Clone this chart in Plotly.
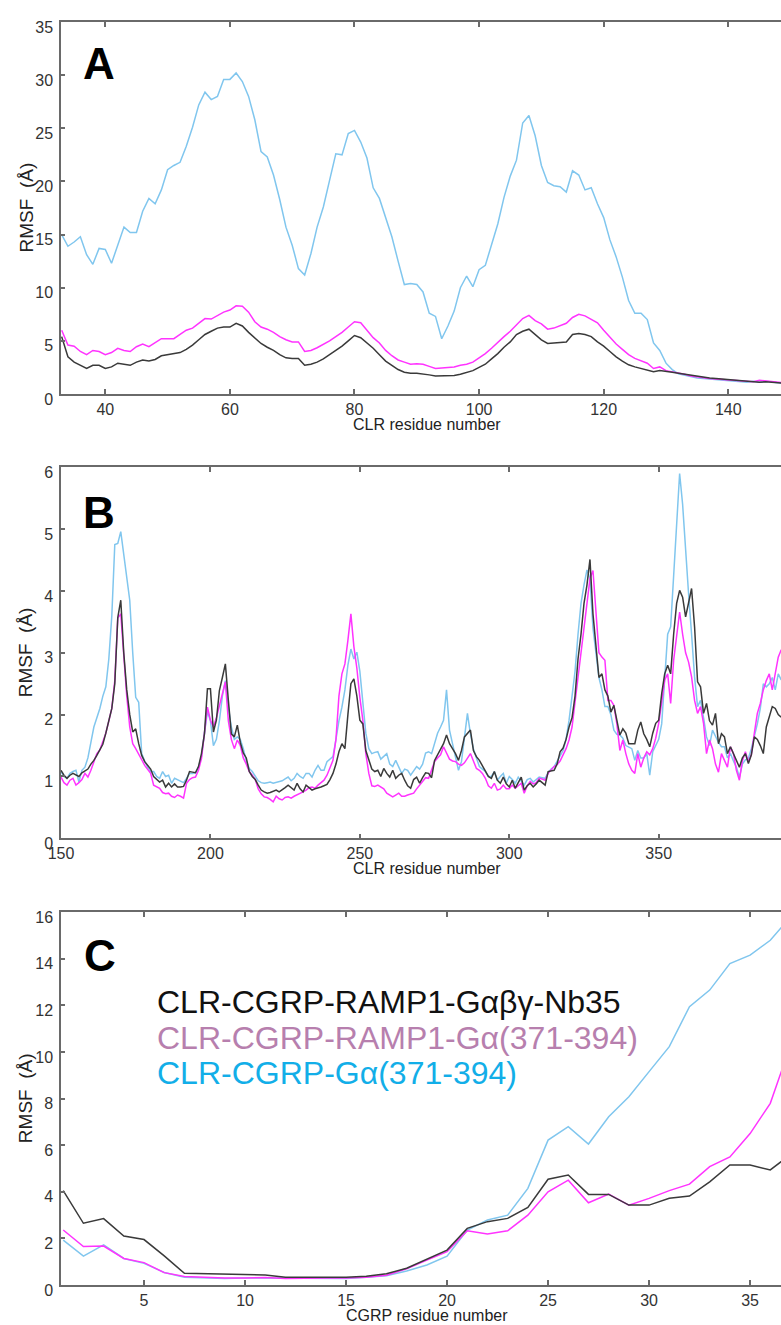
import plotly.graph_objects as go

# ---------------- Panel A : CLR residues 33-150 ----------------
A_res = list(range(33, 151))
A_black = [5.4, 3.5, 3.0, 2.7, 2.4, 2.7, 2.7, 2.4, 2.55, 2.9, 2.8, 2.7, 3.0, 3.2, 3.1, 3.25, 3.6, 3.7, 3.75, 3.9,
           4.2, 4.6, 5.1, 5.6, 5.9, 6.2, 6.3, 6.3, 6.65, 6.4, 5.8, 5.3, 4.75, 4.4, 4.1, 3.7, 3.4, 3.35, 3.35, 2.7,
           2.8, 3.0, 3.3, 3.7, 4.1, 4.5, 5.0, 5.5, 5.3, 4.8, 4.3, 3.7, 3.1, 2.7, 2.3, 2.05, 1.95, 1.95, 1.9, 1.8,
           1.7, 1.7, 1.7, 1.75, 1.85, 2.0, 2.2, 2.5, 2.8, 3.3, 3.8, 4.4, 4.9, 5.6, 5.9, 6.1, 5.6, 5.1, 4.75, 4.8,
           4.85, 4.9, 5.6, 5.7, 5.6, 5.4, 4.9, 4.5, 4.0, 3.5, 3.1, 2.75, 2.55, 2.4, 2.2, 2.1, 2.2, 2.15, 2.05, 1.95,
           1.85, 1.75, 1.65, 1.55, 1.5, 1.45, 1.4, 1.35, 1.3, 1.25, 1.2, 1.15, 1.1, 1.15, 1.1, 1.0, 1.0, 0.95]
A_magenta = [6.0, 4.6, 4.5, 4.0, 3.7, 4.1, 4.0, 3.7, 3.9, 4.3, 4.1, 4.0, 4.45, 4.7, 4.45, 4.8, 5.2, 5.2, 5.2, 5.6,
             6.0, 6.2, 6.65, 7.1, 7.05, 7.4, 7.7, 7.9, 8.3, 8.25, 7.7, 6.8, 6.3, 6.1, 5.8, 5.4, 5.1, 4.9, 4.9, 4.0,
             4.1, 4.35, 4.65, 5.0, 5.4, 5.8, 6.3, 6.8, 6.7, 6.0, 5.3, 4.8, 4.1, 3.6, 3.2, 3.0, 2.8, 2.85, 2.8, 2.6,
             2.4, 2.45, 2.5, 2.55, 2.7, 2.8, 3.0, 3.4, 3.8, 4.3, 4.9, 5.4, 5.9, 6.5, 7.1, 7.4, 6.9, 6.6, 6.1, 6.2,
             6.4, 6.65, 7.2, 7.5, 7.35, 7.0, 6.7, 6.0, 5.3, 4.7, 4.2, 3.7, 3.35, 3.1, 2.9, 2.4, 2.55, 2.2, 2.1, 2.0,
             1.85, 1.7, 1.6, 1.5, 1.45, 1.4, 1.35, 1.3, 1.3, 1.2, 1.2, 1.15, 1.3, 1.25, 1.2, 1.1, 1.05, 1.0]
A_blue = [15.0, 13.9, 14.3, 14.8, 13.1, 12.2, 13.7, 13.6, 12.3, 13.9, 15.7, 15.2, 15.2, 17.2, 18.4, 17.9, 19.2, 21.1,
          21.5, 21.8, 23.3, 25.1, 27.2, 28.4, 27.7, 28.0, 29.6, 29.6, 30.2, 29.4, 28.0, 25.8, 22.8, 22.3, 20.6, 18.3,
          15.7, 14.0, 11.8, 11.2, 13.2, 15.7, 17.6, 20.1, 22.6, 22.5, 24.5, 24.8, 23.7, 22.2, 19.4, 18.4, 16.5, 14.8,
          12.5, 10.3, 10.4, 10.3, 9.6, 7.6, 7.3, 5.2, 6.4, 7.8, 10.0, 11.1, 10.1, 11.7, 12.1, 14.0, 16.0, 18.5, 20.5,
          22.0, 25.5, 26.2, 24.3, 21.5, 19.9, 19.6, 19.5, 19.0, 21.0, 20.6, 19.2, 19.4, 17.9, 16.6, 14.5, 12.9, 11.0,
          8.8, 7.6, 7.6, 7.0, 4.8, 4.1, 2.9, 2.3, 1.9, 1.75, 1.6, 1.5, 1.45, 1.4, 1.3, 1.3, 1.2, 1.2, 1.15, 1.1, 1.2,
          1.1, 1.2, 1.1, 1.05, 1.0, 0.95]

# ---------------- Panel B : CLR residues 150-391 ----------------
B_res = list(range(150, 392))
B_black = [1.10, 1.02, 0.97, 1.02, 1.05, 1.02, 1.0, 1.06, 1.09, 1.12, 1.2, 1.26, 1.34, 1.42, 1.52, 1.7, 1.9, 2.1,
           2.5, 3.57, 3.85, 3.0, 2.4, 2.0, 1.72, 1.77, 1.53, 1.34, 1.24, 1.18, 1.12, 1.0, 0.95, 0.91, 0.94, 0.83,
           0.89, 0.83, 0.88, 0.83, 0.83, 0.84, 0.94, 1.08, 1.07, 1.06, 1.16, 1.37, 1.69, 2.42, 2.42, 1.72, 1.91,
           2.39, 2.6, 2.82, 2.23, 1.69, 1.64, 1.83, 1.55, 1.38, 1.3, 1.08, 1.0, 0.95, 0.86, 0.78, 0.75, 0.73, 0.74,
           0.76, 0.78, 0.75, 0.78, 0.82, 0.86, 0.82, 0.78, 0.89, 0.8, 0.75, 0.86, 0.82, 0.78, 0.8, 0.81, 0.83, 0.85,
           0.87, 0.95, 1.05, 1.2, 1.4, 1.53, 1.45, 2.0, 2.5, 2.58, 2.3, 1.91, 1.85, 1.42, 1.25, 1.12, 1.08, 1.10,
           1.0, 1.13, 1.05, 0.99, 1.10, 0.97, 1.02, 1.05, 0.94, 0.85, 0.81, 0.95, 0.99, 0.89, 0.98, 1.06, 1.05, 0.98,
           1.26, 1.35, 1.42, 1.53, 1.67, 1.53, 1.45, 1.37, 1.26, 1.42, 1.64, 1.7, 1.75, 1.42, 1.32, 1.26, 1.18, 1.1,
           1.0, 0.97, 1.08, 0.94, 0.89, 0.99, 0.88, 0.83, 0.94, 0.81, 0.9, 0.99, 0.78, 0.85, 0.89, 0.83, 0.88, 0.94,
           0.9, 0.86, 1.08, 1.09, 1.10, 1.2, 1.4, 1.46, 1.6, 1.8, 1.95, 2.3, 2.9, 3.3, 3.8, 4.1, 4.51, 3.63, 3.1,
           2.6, 2.66, 2.4, 2.3, 2.04, 2.15, 1.9, 1.67, 1.77, 1.7, 1.53, 1.53, 1.53, 1.75, 1.88, 1.69, 1.6, 1.48,
           1.7, 1.86, 1.91, 2.34, 2.66, 2.80, 2.66, 3.3, 3.8, 4.01, 3.9, 3.58, 3.8, 4.04, 3.42, 2.53, 2.45, 2.02,
           2.18, 1.9, 1.83, 2.02, 1.53, 1.69, 1.64, 1.37, 1.48, 1.37, 1.25, 1.15, 1.3, 1.37, 1.21, 1.35, 1.64, 1.6,
           1.5, 1.37, 1.8, 1.96, 2.13, 2.10, 2.0, 1.96]
B_magenta = [0.99, 0.9, 0.86, 0.94, 0.97, 0.86, 0.9, 0.95, 1.05, 0.99, 1.1, 1.25, 1.37, 1.43, 1.55, 1.7, 1.9, 2.1,
             2.55, 3.56, 3.63, 2.95, 2.3, 1.8, 1.53, 1.45, 1.35, 1.27, 1.18, 1.12, 1.05, 0.86, 0.83, 0.81, 0.74,
             0.72, 0.73, 0.68, 0.66, 0.7, 0.68, 0.65, 0.89, 0.95, 0.98, 0.99, 1.1, 1.29, 1.7, 2.12, 1.91, 1.8, 1.95,
             2.15, 2.35, 2.53, 1.9, 1.6, 1.45, 1.59, 1.5, 1.3, 1.2, 1.08, 1.02, 0.95, 0.8, 0.72, 0.67, 0.66, 0.63,
             0.59, 0.68, 0.64, 0.62, 0.66, 0.67, 0.65, 0.68, 0.7, 0.72, 0.75, 0.78, 0.82, 0.83, 0.81, 0.86, 0.9,
             0.94, 1.02, 1.15, 1.26, 1.6, 2.3, 2.66, 2.82, 3.2, 3.63, 3.1, 2.75, 2.28, 1.91, 1.37, 1.05, 0.85, 0.84,
             0.86, 0.83, 0.8, 0.73, 0.7, 0.67, 0.7, 0.73, 0.68, 0.68, 0.70, 0.72, 0.73, 0.8, 0.86, 0.92, 0.98, 0.97,
             1.1, 1.24, 1.3, 1.35, 1.48, 1.37, 1.28, 1.25, 1.24, 1.2, 1.18, 1.22, 1.3, 1.37, 1.25, 1.13, 1.1, 1.05,
             0.97, 0.85, 0.81, 0.89, 0.78, 0.8, 0.86, 0.8, 0.8, 0.86, 0.81, 0.85, 0.89, 0.73, 0.85, 0.92, 0.88, 0.9,
             0.97, 0.96, 0.94, 1.05, 1.1, 1.16, 1.19, 1.25, 1.35, 1.45, 1.59, 1.8, 2.2, 2.6, 3.0, 3.36, 3.85, 4.2,
             4.33, 3.7, 3.0, 2.93, 2.88, 2.23, 2.23, 2.15, 1.85, 1.42, 1.59, 1.37, 1.2, 1.1, 1.05, 1.37, 1.15, 1.3,
             1.4, 1.35, 1.45, 1.62, 1.86, 2.2, 2.56, 2.66, 2.18, 2.88, 3.3, 3.66, 3.3, 3.0, 2.85, 2.61, 2.23, 2.02,
             2.13, 1.86, 1.37, 1.59, 1.45, 1.2, 1.07, 1.37, 1.26, 1.15, 1.48, 1.37, 1.1, 0.94, 1.25, 1.4, 1.24, 1.35,
             1.7, 2.02, 2.18, 2.4, 2.55, 2.66, 2.40, 2.7, 2.93, 3.05]
B_blue = [1.08, 1.0, 0.97, 1.05, 1.08, 1.10, 0.91, 1.1, 1.15, 1.3, 1.55, 1.8, 1.95, 2.1, 2.3, 2.45, 2.9, 3.6, 4.75,
          4.77, 4.96, 4.6, 4.2, 3.85, 3.0, 2.28, 2.2, 1.37, 1.25, 1.15, 1.08, 1.08, 1.0, 0.97, 1.08, 1.0, 1.02, 0.89,
          0.97, 0.95, 0.92, 0.9, 0.97, 1.05, 1.05, 1.06, 1.15, 1.32, 1.7, 2.05, 1.9, 1.5, 1.6, 1.9, 2.3, 2.55, 2.12,
          1.80, 1.6, 1.64, 1.6, 1.45, 1.25, 1.13, 1.08, 1.0, 0.93, 0.9, 0.89, 0.9, 0.91, 0.89, 0.9, 0.91, 0.93, 0.96,
          0.99, 0.93, 0.97, 1.05, 1.0, 0.97, 1.05, 1.05, 0.99, 1.1, 1.18, 1.1, 1.1, 1.24, 1.28, 1.32, 1.6, 1.9, 2.12,
          2.4, 2.8, 3.06, 2.9, 3.01, 2.7, 2.2, 1.7, 1.45, 1.37, 1.39, 1.40, 1.28, 1.32, 1.37, 1.2, 1.16, 1.26, 1.15,
          1.05, 1.12, 1.1, 1.02, 1.1, 1.16, 1.12, 1.2, 1.38, 1.40, 1.37, 1.55, 1.7, 1.80, 1.91, 2.40, 1.75, 1.53,
          1.3, 1.1, 1.24, 1.59, 2.02, 1.69, 1.45, 1.3, 1.16, 1.12, 1.08, 1.0, 1.0, 1.08, 0.94, 1.0, 1.05, 0.89, 1.0,
          0.95, 0.89, 0.99, 0.92, 0.86, 0.95, 0.97, 0.91, 0.95, 0.99, 0.98, 0.97, 1.06, 1.12, 1.16, 1.25, 1.33, 1.42,
          1.6, 1.91, 2.3, 2.7, 3.3, 3.8, 4.1, 4.34, 4.2, 3.4, 3.0, 2.6, 2.4, 2.13, 2.13, 2.0, 1.75, 1.68, 1.67, 1.62,
          1.5, 1.48, 1.45, 1.26, 1.42, 1.3, 1.3, 1.37, 1.02, 1.4, 1.5, 1.6, 1.85, 2.5, 3.3, 3.42, 4.2, 5.1, 5.9, 5.4,
          4.6, 3.95, 3.3, 2.61, 2.13, 2.23, 1.95, 1.64, 1.5, 1.75, 1.65, 1.55, 1.48, 1.48, 1.3, 1.37, 1.25, 1.15,
          0.99, 1.2, 1.27, 1.29, 1.45, 1.64, 1.85, 2.1, 2.5, 2.45, 2.5, 2.6, 2.4, 2.66, 2.56]

# ---------------- Panel C : CGRP residues 1-37 ----------------
C_res = list(range(1, 38))
C_black = [4.05, 2.65, 2.85, 2.1, 1.95, 1.25, 0.5, 0.48, 0.45, 0.45, 0.43, 0.33, 0.33, 0.35, 0.33, 0.38, 0.48,
           0.72, 1.1, 1.5, 2.43, 2.72, 2.86, 3.33, 4.54, 4.72, 3.89, 3.89, 3.43, 3.43, 3.72, 3.82, 4.43, 5.15,
           5.15, 4.94, 5.6]
C_magenta = [2.36, 1.65, 1.67, 1.14, 0.96, 0.53, 0.36, 0.32, 0.3, 0.3, 0.32, 0.28, 0.3, 0.3, 0.3, 0.33, 0.42,
             0.7, 1.07, 1.43, 2.33, 2.19, 2.33, 3.0, 4.0, 4.5, 3.53, 3.9, 3.43, 3.72, 4.05, 4.33, 5.08, 5.5, 6.5,
             7.8, 10.3]
C_blue = [1.93, 1.24, 1.72, 1.14, 0.93, 0.54, 0.33, 0.3, 0.28, 0.3, 0.3, 0.28, 0.28, 0.3, 0.28, 0.33, 0.4, 0.6,
          0.86, 1.24, 2.36, 2.79, 3.0, 4.15, 6.22, 6.8, 6.05, 7.22, 8.08, 9.16, 10.23, 11.95, 12.66, 13.8, 14.16,
          14.8, 15.8]

series_names = ["CLR-CGRP-RAMP1-Gαβγ-Nb35", "CLR-CGRP-RAMP1-Gα(371-394)", "CLR-CGRP-Gα(371-394)"]
panel_letters = ["A", "B", "C"]
x_titles = ["CLR residue number", "CLR residue number", "CGRP residue number"]
y_title = "RMSF  (Å)"

# ---------------- styling ----------------
W, H = 781, 1325
ML = 61
PW = W - ML
COL_BLACK = "#3a3a3a"
COL_MAG = "#ff33ff"
COL_BLUE = "#80c6ee"
LEG_COLORS = ["#111111", "#b77fae", "#12aee8"]
FONT = "Liberation Sans, Arial, sans-serif"
AX_COL = "#6a6a6a"
TICK_FONT = dict(family=FONT, size=16, color="#333333")

# panel pixel geometry (top, bottom) of plot areas
panels_px = [(22, 394), (467.3, 838.3), (912.3, 1285)]
x_ranges = [[32.89, 148.46], [150, 390.92], [0.89, 36.53]]
y_ranges = [[0, 35], [0, 6], [0, 16]]
y_dticks = [5, 1, 2]
x_dticks = [20, 50, 5]


def py(ypx):
    return 1 - ypx / H


def px(xpx):
    return (xpx - ML) / PW


data_sets = [
    (A_res, A_black, A_magenta, A_blue),
    (B_res, B_black, B_magenta, B_blue),
    (C_res, C_black, C_magenta, C_blue),
]

fig = go.Figure()
layout = dict(
    width=W, height=H,
    margin=dict(l=ML, r=0, t=0, b=0, pad=0),
    paper_bgcolor="white", plot_bgcolor="white",
    showlegend=False,
    font=dict(family=FONT, color="#333333"),
)
annotations = []

for i, (res, blk, mag, blu) in enumerate(data_sets):
    n = "" if i == 0 else str(i + 1)
    xa, ya = "x" + n, "y" + n
    for vals, col, nm in [(blu, COL_BLUE, series_names[2]), (mag, COL_MAG, series_names[1]),
                          (blk, COL_BLACK, series_names[0])]:
        fig.add_trace(go.Scatter(x=res, y=vals, mode="lines", name=nm, xaxis=xa, yaxis=ya,
                                 line=dict(color=col, width=1.5), hoverinfo="skip"))
    top, bot = panels_px[i]
    layout["xaxis" + n] = dict(
        domain=[0, 1], anchor=ya, range=x_ranges[i], dtick=x_dticks[i], tick0=0,
        showgrid=False, zeroline=False, showline=True, linecolor=AX_COL, linewidth=1.5,
        mirror="ticks", ticks="inside", ticklen=5, tickwidth=1.5, tickcolor=AX_COL,
        tickfont=TICK_FONT, ticklabelstandoff=0, automargin=False,
    )
    layout["yaxis" + n] = dict(
        domain=[py(bot), py(top)], anchor=xa, range=y_ranges[i], dtick=y_dticks[i], tick0=0,
        showgrid=False, zeroline=False, showline=True, linecolor=AX_COL, linewidth=1.5,
        mirror=False, ticks="inside", ticklen=4, tickwidth=1.5, tickcolor=AX_COL,
        tickfont=TICK_FONT, ticklabelstandoff=3, ticklabelshift=5, automargin=False,
    )
    # axis titles
    annotations.append(dict(text=x_titles[i], xref="paper", yref="paper", x=px(427), y=py(bot + 30),
                            xanchor="center", yanchor="middle", showarrow=False,
                            font=dict(family=FONT, size=16, color="#222222")))
    annotations.append(dict(text=y_title, xref="paper", yref="paper", x=px(25.5), y=py((top + bot) / 2),
                            xanchor="center", yanchor="middle", textangle=-90, showarrow=False,
                            font=dict(family=FONT, size=19, color="#222222")))

# panel letters
for letter, (lx, ly) in zip(panel_letters, [(81, 63), (81, 512.5), (82, 955.5)]):
    annotations.append(dict(text="<b>" + letter + "</b>", xref="paper", yref="paper", x=px(lx), y=py(ly),
                            xanchor="left", yanchor="middle", showarrow=False,
                            font=dict(family=FONT, size=44, color="#000000")))

# legend text in panel C
for name, col, ly in zip(series_names, LEG_COLORS, [1001.7, 1038, 1073]):
    annotations.append(dict(text=name, xref="paper", yref="paper", x=px(155), y=py(ly),
                            xanchor="left", yanchor="middle", showarrow=False,
                            font=dict(family=FONT, size=32, color=col)))

layout["annotations"] = annotations
fig.update_layout(**layout)
fig.write_html("out.html", config={"displayModeBar": False},
               post_script="document.body.style.margin='0';document.body.style.overflow='hidden';")
